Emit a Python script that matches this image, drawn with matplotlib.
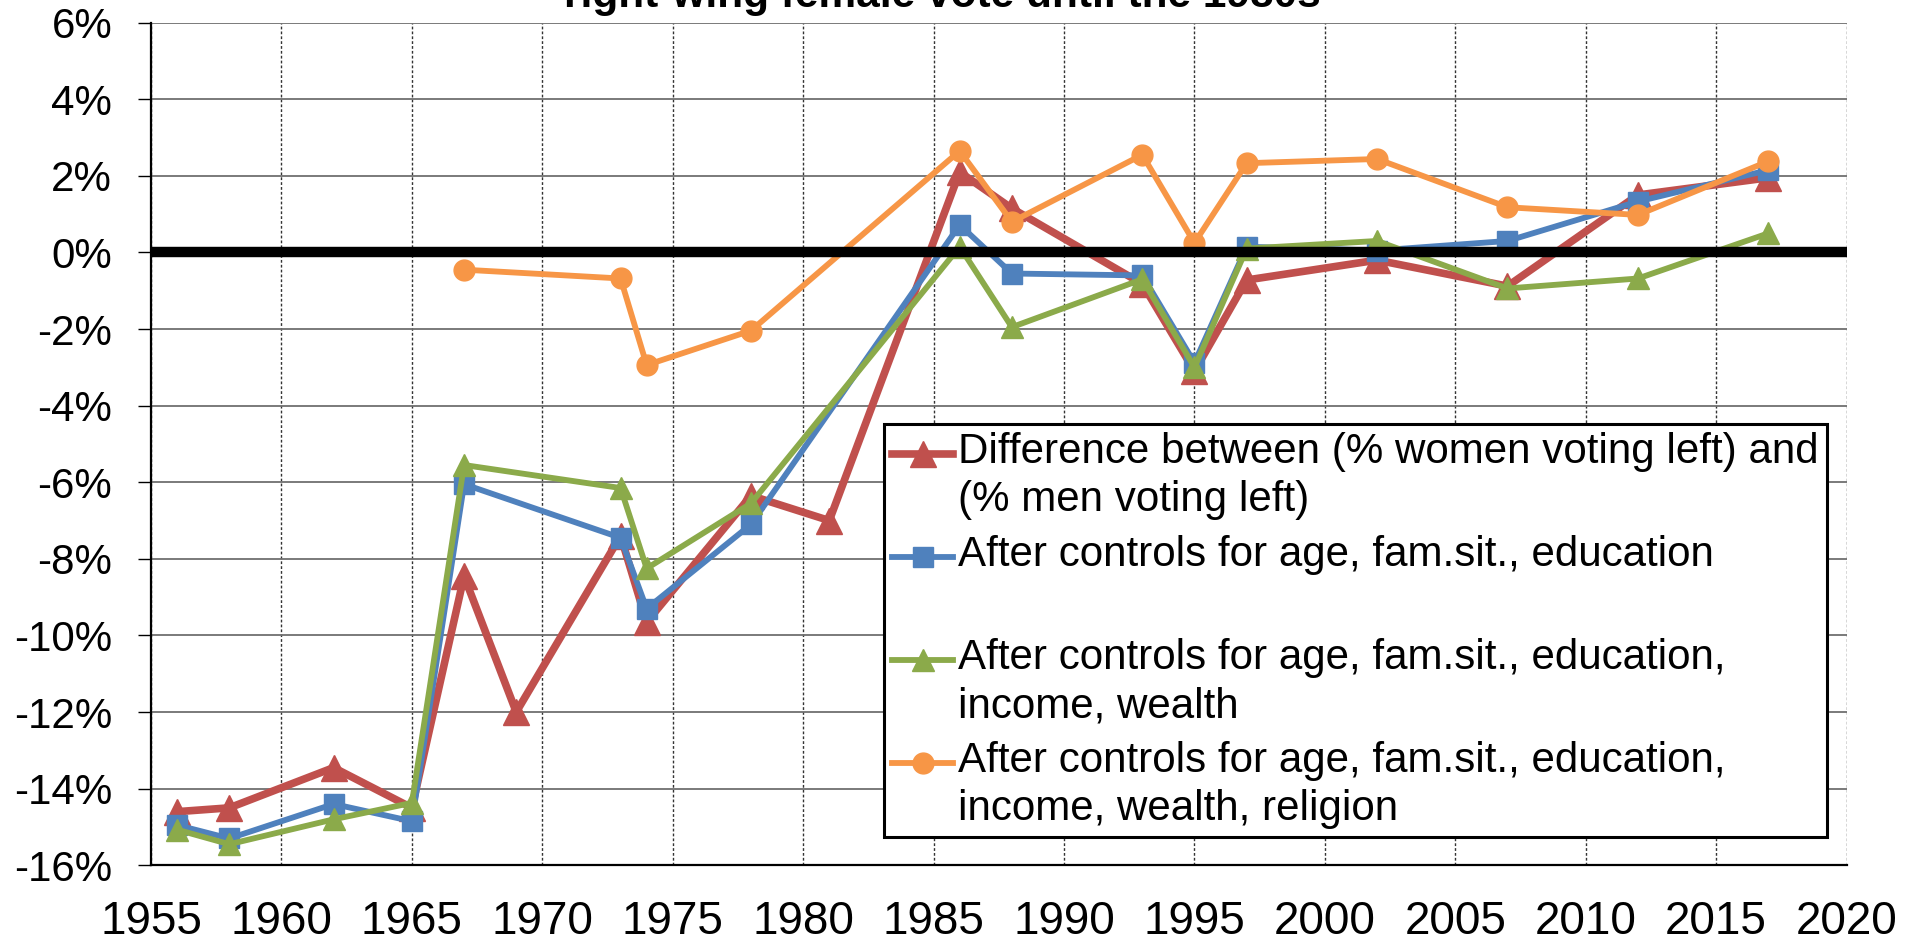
import matplotlib
matplotlib.use("Agg")
import matplotlib.pyplot as plt
import numpy as np
from matplotlib.legend_handler import HandlerLine2D
from matplotlib.ticker import FuncFormatter, MultipleLocator

plt.rcParams['font.family'] = ['Liberation Sans', 'DejaVu Sans']

# ---- data ----
years_red = [1956, 1958, 1962, 1965, 1967, 1969, 1973, 1974, 1978, 1981, 1986, 1988, 1993, 1995, 1997, 2002, 2007, 2012, 2017]
vals_red = [-14.6, -14.5, -13.45, -14.5, -8.45, -12.0, -7.4, -9.65, -6.35, -7.0, 2.1, 1.15, -0.82, -3.1, -0.72, -0.2, -0.88, 1.5, 1.95]

years_blue = [1956, 1958, 1962, 1965, 1967, 1973, 1974, 1978, 1986, 1988, 1993, 1995, 1997, 2002, 2007, 2012, 2017]
vals_blue = [-14.95, -15.3, -14.4, -14.85, -6.05, -7.45, -9.3, -7.1, 0.72, -0.55, -0.6, -2.88, 0.15, 0.05, 0.3, 1.33, 2.15]

years_green = [1956, 1958, 1962, 1965, 1967, 1973, 1974, 1978, 1986, 1988, 1993, 1995, 1997, 2002, 2007, 2012, 2017]
vals_green = [-15.07, -15.45, -14.8, -14.37, -5.55, -6.15, -8.25, -6.55, 0.15, -1.95, -0.7, -3.0, 0.1, 0.3, -0.94, -0.68, 0.5]

years_orange = [1967, 1973, 1974, 1978, 1986, 1988, 1993, 1995, 1997, 2002, 2007, 2012, 2017]
vals_orange = [-0.45, -0.68, -2.94, -2.04, 2.65, 0.8, 2.55, 0.25, 2.33, 2.44, 1.18, 0.98, 2.38]

labels = [
    "Difference between (% women voting left) and\n(% men voting left)",
    "After controls for age, fam.sit., education\n ",
    "After controls for age, fam.sit., education,\nincome, wealth",
    "After controls for age, fam.sit., education,\nincome, wealth, religion",
]
title_text = "right-wing female vote until the 1980s"

c_red = "#C0504D"
c_blue = "#4F81BD"
c_green = "#8BAA4A"
c_orange = "#F79646"

fig = plt.figure(figsize=(19.12, 9.43), dpi=100)
ax = fig.add_axes([0.079, 0.0824, 0.9658 - 0.079, 0.976 - 0.0824])

ax.plot(years_red, vals_red, color=c_red, lw=5.5, marker='^', ms=19, label=labels[0], zorder=3)
ax.plot(years_blue, vals_blue, color=c_blue, lw=4.2, marker='s', ms=14, label=labels[1], zorder=4)
ax.plot(years_green, vals_green, color=c_green, lw=4.2, marker='^', ms=16, label=labels[2], zorder=5)
ax.plot(years_orange, vals_orange, color=c_orange, lw=4.2, marker='o', ms=15, label=labels[3], zorder=6)
ax.axhline(0, color='black', lw=7.5, zorder=7)

ax.set_xlim(1955, 2020)
ax.set_ylim(-16, 6)
ax.xaxis.set_major_locator(MultipleLocator(5))
ax.yaxis.set_major_locator(MultipleLocator(2))
ax.yaxis.set_major_formatter(FuncFormatter(lambda v, p: f"{int(round(v))}%"))

ax.grid(axis='y', color='#6f6f6f', lw=1.3, ls='-', zorder=1)
ax.grid(axis='x', color='#333333', lw=1.0, ls=(0, (2, 1.5)), zorder=1)
ax.set_axisbelow(True)

for s in ['top', 'right']:
    ax.spines[s].set_visible(False)
ax.spines['left'].set_linewidth(1.6)
ax.spines['bottom'].set_linewidth(1.6)
ax.spines['left'].set_zorder(8)

ax.tick_params(axis='y', direction='out', length=9.5, width=1.0, labelsize=30.3, pad=18.5)
ax.tick_params(axis='x', length=0, labelsize=33, pad=25)


class FirstLineHandler(HandlerLine2D):
    def __init__(self, shift, **kw):
        super().__init__(**kw)
        self.shift = shift

    def create_artists(self, legend, orig_handle, xdescent, ydescent, width, height, fontsize, trans):
        return super().create_artists(legend, orig_handle, xdescent, ydescent - 2 * self.shift,
                                      width, height, fontsize, trans)


handles, labs = ax.get_legend_handles_labels()
hmap = {h: FirstLineHandler(16.6) for h in handles}
leg = ax.legend(handles, labs, loc='upper left', bbox_to_anchor=(0.4322, 0.5237),
                borderaxespad=0, fontsize=30.3, frameon=True, fancybox=False,
                edgecolor='black', framealpha=1, borderpad=0.2, handletextpad=0.1,
                handlelength=1.45, labelspacing=0.35, handler_map=hmap)
for t in leg.get_texts():
    t.set_linespacing(1.26)
leg.get_frame().set_linewidth(2.2)
leg.set_zorder(10)

fig.text(942 / 1912, 0.9923, title_text, ha='center', va='baseline', fontsize=30.5, fontweight='bold')

fig.savefig("out.png", dpi=100)
